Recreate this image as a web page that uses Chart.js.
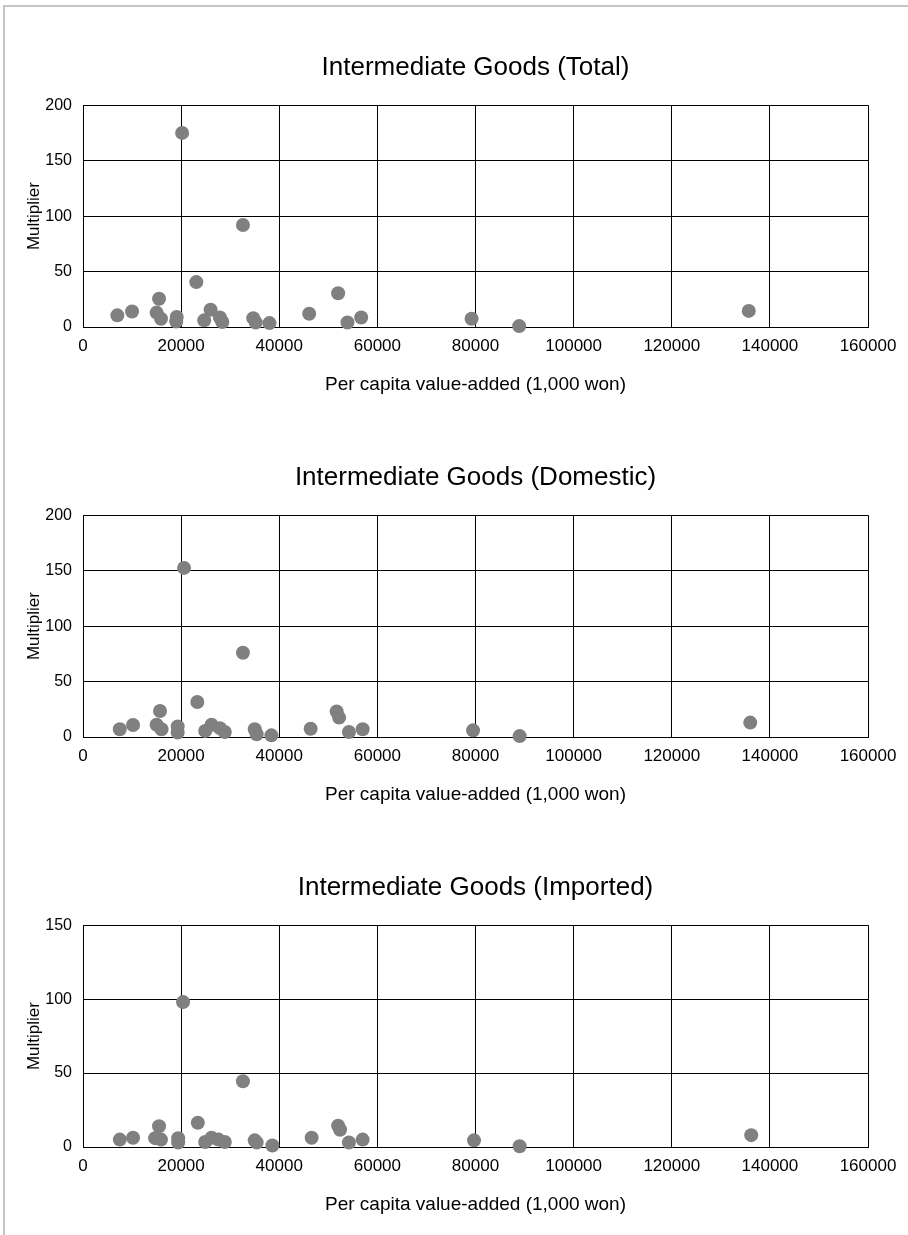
<!DOCTYPE html>
<html>
<head>
<meta charset="utf-8">
<script src="https://cdn.jsdelivr.net/npm/chart.js@4"></script>
<style>
  html, body { margin: 0; padding: 0; background: #fff; }
  #page { position: relative; width: 908px; height: 1235px; overflow: hidden; }
  #frame { position: absolute; left: 3px; top: 5px; width: 1000px; height: 1300px;
           border-left: 2px solid #c4c4c4; border-top: 2px solid #c4c4c4; }
  .box { position: absolute; left: 0; width: 908px; height: 410px; }
</style>
</head>
<body>
<div id="page">
  <div id="frame"></div>
  <div class="box" style="top:0"><canvas id="chart-total" width="908" height="410"></canvas></div>
  <div class="box" style="top:410px"><canvas id="chart-domestic" width="908" height="410"></canvas></div>
  <div class="box" style="top:820px"><canvas id="chart-imported" width="908" height="410"></canvas></div>
</div>
<script>
// per capita value-added (1,000 won) vs multiplier
const totalX = [7000, 10000, 15000, 15500, 15900, 19100, 19000, 20200, 23100, 24700, 26000, 27900, 28400, 32600, 34700, 35200, 38000, 46100, 52000, 53900, 56700, 79200, 88900, 135700];
const totalY = [10.5, 14, 13, 25.5, 7.5, 9, 5, 175, 40.5, 6, 15.5, 8.5, 4.5, 92, 8, 4, 3.5, 12, 30.5, 4, 8.5, 7.5, 0.8, 14.5];

const domesticX = [7500, 10200, 15000, 15700, 16000, 19300, 19300, 20600, 23300, 24900, 26200, 27900, 28900, 32600, 35000, 35400, 38400, 46400, 51700, 52200, 54200, 57000, 79500, 89000, 136000];
const domesticY = [7, 10.8, 11, 23.5, 7, 9.5, 4, 152.5, 31.5, 5.5, 11, 8, 4.5, 76, 7, 2.5, 1.5, 7.5, 23, 17.5, 4.5, 7, 6, 0.8, 13];

const importedX = [7500, 10200, 14700, 15500, 15900, 19400, 19400, 20400, 23400, 24900, 26200, 27600, 28900, 32600, 35000, 35400, 38600, 46600, 52000, 52400, 54200, 57000, 79700, 89000, 136200];
const importedY = [5, 6.3, 6, 14, 5, 6, 3, 98, 16.4, 3.4, 6.3, 5, 3.4, 44.5, 4.5, 3, 1, 6.3, 14.4, 11.7, 3, 5, 4.5, 0.5, 8];

const xTicks = [0, 20000, 40000, 60000, 80000, 100000, 120000, 140000, 160000];
const yTicks200 = [0, 50, 100, 150, 200];
const yTicks150 = [0, 50, 100, 150];

const FONT = "'Liberation Sans', Arial, sans-serif";

function makeScatter(id, title, xs, ys, yTicks) {
  const pts = xs.map((x, i) => ({ x: x, y: ys[i] }));
  return new Chart(document.getElementById(id), {
    type: 'scatter',
    data: {
      datasets: [{
        data: pts,
        backgroundColor: '#808080',
        borderWidth: 0,
        pointRadius: 7,
        pointHoverRadius: 7,
        clip: false
      }]
    },
    options: {
      responsive: false,
      animation: false,
      devicePixelRatio: 1,
      layout: { padding: { left: 0, right: 40, top: 0, bottom: 0 } },
      plugins: {
        legend: { display: false },
        tooltip: { enabled: false },
        title: {
          display: true, text: title, color: '#000', fullSize: false,
          font: { family: FONT, size: 26, weight: 'normal' },
          padding: { top: 52, bottom: 22 }
        }
      },
      scales: {
        x: {
          type: 'linear', min: 0, max: 160000,
          afterBuildTicks: s => { s.ticks = xTicks.map(v => ({ value: v })); },
          afterFit: s => { s.height = 83; },
          grid: { color: '#000', drawTicks: false },
          border: { color: '#000' },
          ticks: { padding: 9, color: '#000', autoSkip: false, maxRotation: 0,
                   font: { family: FONT, size: 17 }, callback: v => String(v) },
          title: { display: true, text: 'Per capita value-added (1,000 won)', color: '#000',
                   font: { family: FONT, size: 19 }, padding: { top: 0, bottom: 14 } }
        },
        y: {
          type: 'linear', min: 0, max: yTicks[yTicks.length - 1],
          afterBuildTicks: s => { s.ticks = yTicks.map(v => ({ value: v })); },
          afterFit: s => { s.width = 83; },
          grid: { color: '#000', drawTicks: false },
          border: { color: '#000' },
          ticks: { padding: 11, color: '#000', font: { family: FONT, size: 16 }, callback: v => String(v) },
          title: { display: true, text: 'Multiplier', color: '#000',
                   font: { family: FONT, size: 17 }, padding: { top: 24, bottom: 0 } }
        }
      }
    }
  });
}

makeScatter('chart-total', 'Intermediate Goods (Total)', totalX, totalY, yTicks200);
makeScatter('chart-domestic', 'Intermediate Goods (Domestic)', domesticX, domesticY, yTicks200);
makeScatter('chart-imported', 'Intermediate Goods (Imported)', importedX, importedY, yTicks150);
</script>
</body>
</html>
